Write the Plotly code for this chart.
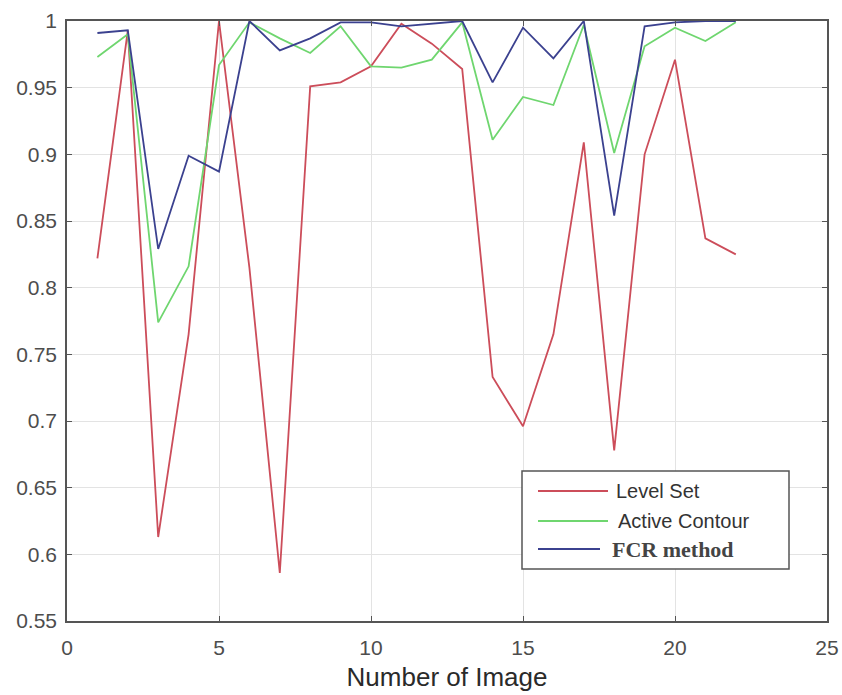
import plotly.graph_objects as go

images = list(range(1, 23))
level_set = [0.822, 0.993, 0.613, 0.765, 1.000, 0.815, 0.586, 0.951, 0.954, 0.966, 0.998,
             0.983, 0.964, 0.733, 0.696, 0.765, 0.909, 0.678, 0.900, 0.971, 0.837, 0.825]
active_contour = [0.973, 0.990, 0.774, 0.816, 0.967, 0.999, 0.987, 0.976, 0.996, 0.966, 0.965,
                  0.971, 0.999, 0.911, 0.943, 0.937, 0.997, 0.901, 0.981, 0.995, 0.985, 0.999]
fcr_method = [0.991, 0.993, 0.829, 0.899, 0.887, 1.000, 0.978, 0.987, 0.999, 0.999, 0.996,
              0.998, 1.000, 0.954, 0.995, 0.972, 1.000, 0.854, 0.996, 0.999, 1.000, 1.000]

series_names = ["Level Set", "Active Contour", "FCR method"]
colors = ["#cc4d5a", "#6fd66f", "#3b418f"]

# target plot box in screen pixels (page body margin removed by post_script)
LEFT, RIGHT, TOP, BOTTOM = 67, 827, 21, 621
W, H = 842, 695
ML, MT = LEFT, TOP
MR = W - RIGHT
MB = H - BOTTOM
PW, PH = RIGHT - LEFT, BOTTOM - TOP


def px(x):
    return (x - LEFT) / PW


def py(y):
    return (BOTTOM - y) / PH


fig = go.Figure()
for name, vals, col in zip(series_names, [level_set, active_contour, fcr_method], colors):
    fig.add_trace(go.Scatter(x=images, y=vals, mode="lines", name=name,
                             line=dict(color=col, width=1.8), showlegend=False))

axis_common = dict(showgrid=True, gridcolor="#e3e3e3", gridwidth=1,
                   showline=True, linecolor="#555555", linewidth=1.5, mirror="ticks",
                   ticks="inside", ticklen=5, tickcolor="#555555", zeroline=False,
                   automargin=False,
                   tickfont=dict(family="Liberation Sans", size=21, color="#4d4d4d"))

fig.update_xaxes(range=[0, 25], dtick=5, tick0=0, ticklabelstandoff=7,
                 title=dict(text="Number of Image", standoff=10,
                            font=dict(family="Liberation Sans", size=26, color="#2a2a2a")),
                 **axis_common)
fig.update_yaxes(range=[0.55, 1.0], dtick=0.05, tick0=0.55, ticklabelstandoff=4, **axis_common)

# custom legend (MATLAB style)
shapes = [dict(type="rect", xref="paper", yref="paper",
               x0=px(522), x1=px(789), y0=py(569), y1=py(471),
               line=dict(color="#555555", width=1.5), fillcolor="white", layer="above")]
annotations = []
rows = [491, 521, 549]
line_ends = [608, 608, 600]
text_x = [614, 616, 610]
fonts = [dict(family="Liberation Sans", size=20, color="#333333"),
         dict(family="Liberation Sans", size=20, color="#333333"),
         dict(family="Liberation Serif", size=22, color="#444444")]
labels = ["Level Set", "Active Contour", "<b>FCR method</b>"]
for i in range(3):
    shapes.append(dict(type="line", xref="paper", yref="paper",
                       x0=px(538), x1=px(line_ends[i]), y0=py(rows[i]), y1=py(rows[i]),
                       line=dict(color=colors[i], width=1.8), layer="above"))
    annotations.append(dict(xref="paper", yref="paper", x=px(text_x[i]), y=py(rows[i]),
                            text=labels[i], showarrow=False, xanchor="left", yanchor="middle",
                            font=fonts[i]))

fig.update_layout(width=W, height=H, margin=dict(l=ML, r=MR, t=MT, b=MB, autoexpand=False),
                  paper_bgcolor="white", plot_bgcolor="white",
                  shapes=shapes, annotations=annotations, showlegend=False)

fig.write_html("out.html", config={"displayModeBar": False},
               post_script="document.body.style.margin='0';document.body.style.overflow='hidden';")
